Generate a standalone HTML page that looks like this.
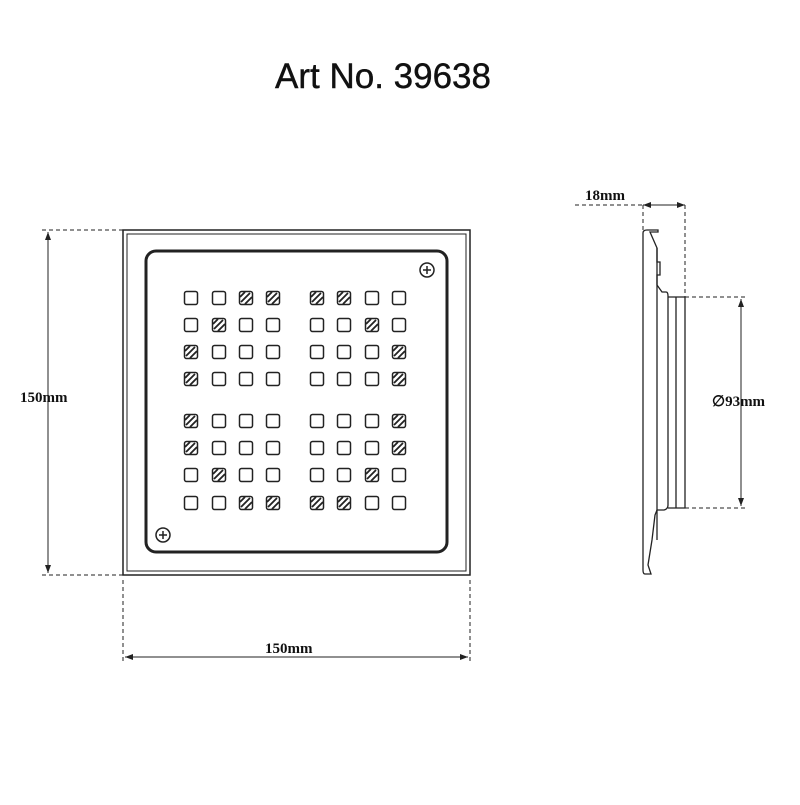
<!DOCTYPE html>
<html><head><style>body{margin:0;background:#fff}</style></head><body>
<svg width="800" height="800" xmlns="http://www.w3.org/2000/svg" xmlns:xlink="http://www.w3.org/1999/xlink" font-family="Liberation Serif, serif">
<defs>
<rect id="s" x="-6.5" y="-6.5" width="13" height="13" rx="2" fill="none" stroke="#222" stroke-width="1.5"/>
<g id="h" fill="none" stroke="#222"><rect x="-6.5" y="-6.5" width="13" height="13" rx="2" stroke-width="1.5"/><path d="M-5 4L4-5M-1 6L6-1M-6 -1L-1-6" stroke-width="1.8"/></g>
</defs>
<rect width="800" height="800" fill="#fff"/>
<text x="383" y="88" font-family="Liberation Sans, sans-serif" font-size="35" text-anchor="middle" fill="#111" stroke="#111" stroke-width="0.4">Art No. 39638</text>
<g fill="none" stroke="#222">
<rect x="123" y="230" width="347" height="345" stroke-width="1.5"/>
<rect x="127" y="234" width="339" height="337" stroke-width="1"/>
<rect x="146" y="251" width="301" height="301" rx="10" stroke-width="3"/>
<circle cx="427" cy="270" r="7" stroke-width="1.5"/>
<path d="M423 270h8M427 266v8" stroke-width="1.5"/>
<circle cx="163" cy="535" r="7" stroke-width="1.5"/>
<path d="M159 535h8M163 531v8" stroke-width="1.5"/>
</g>
<g>
<use xlink:href="#s" x="191" y="298"/><use xlink:href="#s" x="219" y="298"/><use xlink:href="#h" x="246" y="298"/><use xlink:href="#h" x="273" y="298"/><use xlink:href="#h" x="317" y="298"/><use xlink:href="#h" x="344" y="298"/><use xlink:href="#s" x="372" y="298"/><use xlink:href="#s" x="399" y="298"/>
<use xlink:href="#s" x="191" y="325"/><use xlink:href="#h" x="219" y="325"/><use xlink:href="#s" x="246" y="325"/><use xlink:href="#s" x="273" y="325"/><use xlink:href="#s" x="317" y="325"/><use xlink:href="#s" x="344" y="325"/><use xlink:href="#h" x="372" y="325"/><use xlink:href="#s" x="399" y="325"/>
<use xlink:href="#h" x="191" y="352"/><use xlink:href="#s" x="219" y="352"/><use xlink:href="#s" x="246" y="352"/><use xlink:href="#s" x="273" y="352"/><use xlink:href="#s" x="317" y="352"/><use xlink:href="#s" x="344" y="352"/><use xlink:href="#s" x="372" y="352"/><use xlink:href="#h" x="399" y="352"/>
<use xlink:href="#h" x="191" y="379"/><use xlink:href="#s" x="219" y="379"/><use xlink:href="#s" x="246" y="379"/><use xlink:href="#s" x="273" y="379"/><use xlink:href="#s" x="317" y="379"/><use xlink:href="#s" x="344" y="379"/><use xlink:href="#s" x="372" y="379"/><use xlink:href="#h" x="399" y="379"/>
<use xlink:href="#h" x="191" y="421"/><use xlink:href="#s" x="219" y="421"/><use xlink:href="#s" x="246" y="421"/><use xlink:href="#s" x="273" y="421"/><use xlink:href="#s" x="317" y="421"/><use xlink:href="#s" x="344" y="421"/><use xlink:href="#s" x="372" y="421"/><use xlink:href="#h" x="399" y="421"/>
<use xlink:href="#h" x="191" y="448"/><use xlink:href="#s" x="219" y="448"/><use xlink:href="#s" x="246" y="448"/><use xlink:href="#s" x="273" y="448"/><use xlink:href="#s" x="317" y="448"/><use xlink:href="#s" x="344" y="448"/><use xlink:href="#s" x="372" y="448"/><use xlink:href="#h" x="399" y="448"/>
<use xlink:href="#s" x="191" y="475"/><use xlink:href="#h" x="219" y="475"/><use xlink:href="#s" x="246" y="475"/><use xlink:href="#s" x="273" y="475"/><use xlink:href="#s" x="317" y="475"/><use xlink:href="#s" x="344" y="475"/><use xlink:href="#h" x="372" y="475"/><use xlink:href="#s" x="399" y="475"/>
<use xlink:href="#s" x="191" y="503"/><use xlink:href="#s" x="219" y="503"/><use xlink:href="#h" x="246" y="503"/><use xlink:href="#h" x="273" y="503"/><use xlink:href="#h" x="317" y="503"/><use xlink:href="#h" x="344" y="503"/><use xlink:href="#s" x="372" y="503"/><use xlink:href="#s" x="399" y="503"/>
</g>
<g fill="none" stroke="#222" stroke-width="1" stroke-dasharray="4,3">
<path d="M42 230H123M42 575H123M123 580V662M470 580V662M575 205H643M643 205V230M685 205V297M685 297H745M685 508H745"/>
</g>
<g stroke="#222" stroke-width="1">
<path d="M48 232V573M125 657H468M643 205H685M741 299V506"/>
</g>
<g fill="#222">
<path d="M48 232l-3 8h6zM48 573l-3-8h6zM125 657l8-3v6zM468 657l-8-3v6zM643 205l8-3v6zM685 205l-8-3v6zM741 299l-3 8h6zM741 506l-3-8h6z"/>
</g>
<g fill="none" stroke="#222" stroke-width="1.3">
<path d="M643 233Q643 230 647 230H658V232H650L657 248V262H660V275H657V285L662 292H666Q668 292 668 296V505Q668 509 664 510H657L655 515L652 540L648 565L651 574H645Q643 574 643 570Z"/>
<path d="M657 248V540"/>
<path d="M668 297H685V508H668"/>
<path d="M676 297V508"/>
</g>
<g font-size="15" font-weight="bold" fill="#111">
<text x="20" y="402">150mm</text>
<text x="265" y="653">150mm</text>
<text x="585" y="200">18mm</text>
<text x="712" y="406">∅93mm</text>
</g>
</svg>
</body></html>
